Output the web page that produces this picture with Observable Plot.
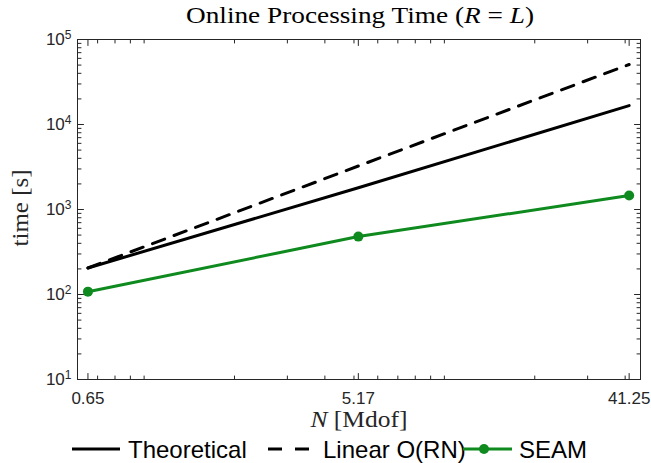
<!DOCTYPE html>
<html><head><meta charset="utf-8">
<script src="https://cdn.jsdelivr.net/npm/d3@7"></script>
<script src="https://cdn.jsdelivr.net/npm/@observablehq/plot@0.6"></script>
<style>body{margin:0;background:#fff;}</style>
</head><body><div id="chart"></div>
<script>
const N = [0.65, 5.17, 41.25];
const theoretical = [205, 1800, 16700];
const linearORN = [205, 3250, 50800];
const seam = [108, 480, 1460];
const xTicks = [0.65, 5.17, 41.25];
const xTickLabels = ["0.65", "5.17", "41.25"];
const yTicks = [10, 100, 1000, 10000, 100000];
const yTickExp = ["1", "2", "3", "4", "5"];
const seriesNames = ["Theoretical", "Linear O(RN)", "SEAM"];
const green = "#0f8a1f";
const axisColor = "#262626";

const toRows = (vals, s) => N.map((n, i) => ({N: n, t: vals[i], s}));
const rowsTheo = toRows(theoretical, seriesNames[0]);
const rowsLin = toRows(linearORN, seriesNames[1]);
const rowsSeam = toRows(seam, seriesNames[2]);

// minor tick positions (log decades)
const xMinor = [];
for (let e = -1; e <= 1; e++) for (let m = 1; m <= 9; m++) { const v = m * 10 ** e; if (v > 0.6 && v < 45) xMinor.push(+v.toPrecision(3)); }
const yMinor = [];
for (let e = 1; e <= 4; e++) for (let m = 2; m <= 9; m++) yMinor.push(m * 10 ** e);

const lineShape = {draw(ctx, l) { ctx.moveTo(0, 0); ctx.lineTo(0, -l); }};
function ticks(values, side, len) {
  const rot = {bottom: 0, top: 180, left: 90, right: -90}[side];
  const ch = (side === "bottom" || side === "top") ? {x: d => d} : {y: d => d};
  return Plot.vector(values, {...ch, frameAnchor: side, rotate: rot, length: len, anchor: "start", shape: lineShape, stroke: axisColor, strokeWidth: 1});
}

const W = 651, H = 463;
const chart = Plot.plot({
  width: W, height: H,
  marginTop: 39, marginBottom: 84, marginLeft: 77, marginRight: 11,
  style: {fontFamily: "'Liberation Sans', Helvetica, Arial, sans-serif", color: axisColor, background: "white"},
  x: {type: "log", domain: [0.6, 45], axis: null},
  y: {type: "log", domain: [10, 1e5], axis: null},
  marks: [
    Plot.line(rowsTheo, {x: "N", y: "t", stroke: "black", strokeWidth: 3}),
    Plot.line(rowsLin, {x: "N", y: "t", stroke: "black", strokeWidth: 3, strokeDasharray: "13,10"}),
    Plot.line(rowsSeam, {x: "N", y: "t", stroke: green, strokeWidth: 3}),
    Plot.dot(rowsSeam, {x: "N", y: "t", r: 5, fill: green, stroke: "none"}),
    Plot.frame({stroke: axisColor, strokeWidth: 1}),
    ticks(xTicks, "bottom", 6), ticks(xTicks, "top", 6),
    ticks(xMinor, "bottom", 3.5), ticks(xMinor, "top", 3.5),
    ticks(yTicks, "left", 6), ticks(yTicks, "right", 6),
    ticks(yMinor, "left", 3.5), ticks(yMinor, "right", 3.5),
    Plot.text(xTicks, {x: d => d, frameAnchor: "bottom", dy: 12, lineAnchor: "top", fontSize: 17, fill: axisColor, text: (d, i) => xTickLabels[i]}),
    Plot.text(yTicks, {y: d => d, frameAnchor: "left", dx: -6, textAnchor: "end", lineAnchor: "middle", fontSize: 17, fill: axisColor, text: (d, i) => "10^" + yTickExp[i]})
  ]
});
document.getElementById("chart").append(chart);

const svg = d3.select(chart);
// superscripts on y tick labels
svg.selectAll("text").filter(function() { return this.textContent.includes("^"); }).each(function() {
  const parts = this.textContent.split("^");
  const t = d3.select(this);
  t.text(null);
  t.append("tspan").text(parts[0]);
  t.append("tspan").attr("dy", "-0.5em").attr("font-size", "12px").text(parts[1]);
});

const serif = "'Liberation Serif', 'DejaVu Serif', serif";
// Title
const title = svg.append("text").attr("x", 360).attr("y", 23).attr("text-anchor", "middle")
  .attr("font-family", serif).attr("font-size", 23).attr("fill", "black")
  .attr("textLength", 348).attr("lengthAdjust", "spacingAndGlyphs");
title.append("tspan").text("Online Processing Time (");
title.append("tspan").attr("font-style", "italic").text("R");
title.append("tspan").text(" = ");
title.append("tspan").attr("font-style", "italic").text("L");
title.append("tspan").text(")");

// Axis labels
svg.append("text").attr("transform", "translate(28,208) rotate(-90)").attr("text-anchor", "middle")
  .attr("font-family", serif).attr("font-size", 23).attr("fill", axisColor)
  .attr("textLength", 77).attr("lengthAdjust", "spacingAndGlyphs").text("time [s]");
const xl = svg.append("text").attr("x", 359).attr("y", 427).attr("text-anchor", "middle")
  .attr("font-family", serif).attr("font-size", 23).attr("fill", axisColor)
  .attr("textLength", 97).attr("lengthAdjust", "spacingAndGlyphs");
xl.append("tspan").attr("font-style", "italic").text("N");
xl.append("tspan").text(" [Mdof]");

// Legend
const lg = svg.append("g").attr("font-family", "'Liberation Sans', Helvetica, Arial, sans-serif").attr("font-size", 24).attr("fill", "black").attr("text-anchor", "start");
const ly = 449, lb = 458;
lg.append("line").attr("x1", 72).attr("x2", 120).attr("y1", ly).attr("y2", ly).attr("stroke", "black").attr("stroke-width", 3);
lg.append("text").attr("x", 128).attr("y", lb).text(seriesNames[0]);
lg.append("line").attr("x1", 268).attr("x2", 315).attr("y1", ly).attr("y2", ly).attr("stroke", "black").attr("stroke-width", 3).attr("stroke-dasharray", "14,13");
lg.append("text").attr("x", 323).attr("y", lb).text(seriesNames[1]);
lg.append("line").attr("x1", 463).attr("x2", 512).attr("y1", ly).attr("y2", ly).attr("stroke", green).attr("stroke-width", 3);
lg.append("circle").attr("cx", 484).attr("cy", ly).attr("r", 5).attr("fill", green);
lg.append("text").attr("x", 519).attr("y", lb).text(seriesNames[2]);
</script>
</body></html>
